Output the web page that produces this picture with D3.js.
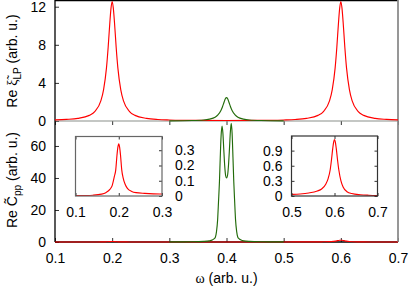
<!DOCTYPE html>
<html>
<head>
<meta charset="utf-8">
<script src="https://cdn.jsdelivr.net/npm/d3@7"></script>
<style>
  body { margin: 0; background: #fff; }
  svg { display: block; font-family: "Liberation Sans", Arial, sans-serif; }
</style>
</head>
<body>
<svg id="chart" width="411" height="288"></svg>
<script>
const omegaRed = [0.1, 0.12, 0.14, 0.16, 0.17, 0.18, 0.185, 0.19, 0.193, 0.196, 0.198, 0.2, 0.202, 0.204, 0.207, 0.21, 0.215, 0.22, 0.23, 0.24, 0.26, 0.28, 0.3, 0.35, 0.4, 0.45, 0.5, 0.52, 0.54, 0.56, 0.57, 0.58, 0.585, 0.59, 0.593, 0.596, 0.598, 0.6, 0.602, 0.604, 0.607, 0.61, 0.615, 0.62, 0.63, 0.64, 0.66, 0.68, 0.7];
// Re xi_LP, red (top panel)
const xiRed = [0.12, 0.17, 0.27, 0.59, 1.02, 2.08, 3.3, 5.55, 7.75, 10.4, 11.85, 12.55, 11.85, 10.4, 7.75, 5.55, 3.3, 2.08, 1.02, 0.59, 0.28, 0.16, 0.11, 0.06, 0.05, 0.06, 0.11, 0.16, 0.28, 0.59, 1.02, 2.08, 3.3, 5.55, 7.75, 10.4, 11.85, 12.55, 11.85, 10.4, 7.75, 5.55, 3.3, 2.08, 1.02, 0.59, 0.27, 0.17, 0.12];
// Re C_pp, red (bottom panel and both insets)
const cppRed = [0.002, 0.003, 0.005, 0.012, 0.022, 0.045, 0.07, 0.13, 0.17, 0.27, 0.32, 0.342, 0.32, 0.27, 0.17, 0.12, 0.075, 0.05, 0.03, 0.022, 0.017, 0.014, 0.013, 0.012, 0.015, 0.02, 0.03, 0.04, 0.06, 0.1, 0.14, 0.24, 0.34, 0.52, 0.72, 0.95, 1.07, 1.12, 1.07, 0.95, 0.72, 0.52, 0.3, 0.18, 0.08, 0.05, 0.025, 0.015, 0.01];

// green, top panel
const omegaGreenTop = [0.3, 0.34, 0.36, 0.37, 0.38, 0.385, 0.39, 0.393, 0.396, 0.398, 0.4, 0.402, 0.404, 0.407, 0.41, 0.415, 0.42, 0.43, 0.44, 0.46, 0.5];
const xiGreen = [0.02, 0.05, 0.11, 0.2, 0.4, 0.64, 1.07, 1.5, 2.02, 2.33, 2.45, 2.33, 2.02, 1.5, 1.07, 0.64, 0.4, 0.2, 0.11, 0.05, 0.02];

// green, bottom panel
const omegaGreenBot = [0.3, 0.34, 0.36, 0.37, 0.375, 0.378, 0.3805, 0.3825, 0.3845, 0.386, 0.3877, 0.389, 0.3905, 0.3922, 0.3937, 0.3952, 0.3968, 0.3985, 0.4002, 0.402, 0.4037, 0.4053, 0.4068, 0.4083, 0.4098, 0.4113, 0.4127, 0.4143, 0.4158, 0.4178, 0.4198, 0.4225, 0.4255, 0.43, 0.44, 0.46, 0.5];
const cppGreen = [0.05, 0.15, 0.35, 0.7, 1.2, 1.9, 3, 6.5, 14, 25, 38, 52, 66, 72.5, 68, 58, 48, 41.5, 40, 42, 49, 59, 69, 74.2, 68, 53, 38, 25, 14, 6.5, 3, 1.9, 1.2, 0.7, 0.35, 0.15, 0.05];

// tick labels
const xTicks = [0.1, 0.2, 0.3, 0.4, 0.5, 0.6, 0.7];
const yTicksTop = [0, 4, 8, 12];
const yTicksBot = [0, 20, 40, 60];
const leftInsetX = [0.1, 0.2, 0.3];
const leftInsetY = [0, 0.1, 0.2, 0.3];
const rightInsetX = [0.5, 0.6, 0.7];
const rightInsetY = [0, 0.3, 0.6, 0.9];

const RED = "#ff0000";
const GREEN = "#226b0a";
const FONT = 14;
const LW = 1.15;

const svg = d3.select("#chart");

/* ---------------- scales ---------------- */
const x = d3.scaleLinear().domain([0.1, 0.7]).range([55, 398]);
const yTop = d3.scaleLinear().domain([0, 12.6]).range([121, 1]);
const yBot = d3.scaleLinear().domain([0, 75.6]).range([242, 121]);

function series(xs, ys) {
    return xs.map((v, i) => [v, ys[i]]);
}

function drawCurve(g, data, xs, ys, color, clipId) {
    g.append("path")
        .datum(data)
        .attr("clip-path", `url(#${clipId})`)
        .attr("fill", "none")
        .attr("stroke", color)
        .attr("stroke-width", LW)
        .attr("d", d3.line()
            .x(d => xs(d[0]))
            .y(d => ys(d[1]))
            .curve(d3.curveMonotoneX));
}

const defs = svg.append("defs");
function clip(id, x0, y0, w, h) {
    defs.append("clipPath").attr("id", id)
        .append("rect").attr("x", x0).attr("y", y0).attr("width", w).attr("height", h);
}
clip("clipTop", 55, 0, 343, 122);
clip("clipBot", 55, 120, 343, 123);

/* ---------------- axes ---------------- */
function styleAxis(g) {
    g.select(".domain").remove();
    g.selectAll("line").attr("stroke", "#333");
    g.selectAll("text").attr("font-size", FONT).attr("fill", "#000")
        .attr("font-family", "'Liberation Sans', Arial, sans-serif");
}

svg.append("g").attr("transform", "translate(55,0)")
    .call(d3.axisLeft(yTop).tickValues(yTicksTop).tickFormat(d3.format("d")).tickSize(-4).tickPadding(9))
    .call(styleAxis);
svg.append("g").attr("transform", "translate(55,0)")
    .call(d3.axisLeft(yBot).tickValues(yTicksBot).tickFormat(d3.format("d")).tickSize(-4).tickPadding(9))
    .call(styleAxis);
svg.append("g").attr("transform", "translate(0,242)")
    .call(d3.axisBottom(x).tickValues(xTicks).tickFormat(d3.format(".1f")).tickSize(-4).tickPadding(11))
    .call(styleAxis);
svg.append("g").attr("transform", "translate(0,121)")
    .call(d3.axisBottom(x).tickValues(xTicks).tickSize(4).tickFormat(""))
    .call(styleAxis);

// frame
const frame = svg.append("g").attr("fill", "none");
frame.append("line").attr("x1", 55).attr("x2", 398).attr("y1", 121).attr("y2", 121).attr("stroke", "#8a8f8a").attr("stroke-width", 1.2);
frame.append("line").attr("x1", 55).attr("x2", 55).attr("y1", 0).attr("y2", 242).attr("stroke", "#000").attr("stroke-width", 1.3);
frame.append("line").attr("x1", 55).attr("x2", 398).attr("y1", 0.7).attr("y2", 0.7).attr("stroke", "#000").attr("stroke-width", 1.3);
frame.append("line").attr("x1", 55).attr("x2", 398).attr("y1", 242).attr("y2", 242).attr("stroke", "#000").attr("stroke-width", 1.3);
frame.append("line").attr("x1", 398).attr("x2", 398).attr("y1", 0).attr("y2", 242).attr("stroke", "#8c8c8c").attr("stroke-width", 1.8);

/* ---------------- curves (over the frame, like the reference) ---------------- */
const plot = svg.append("g");
drawCurve(plot, series(omegaRed, xiRed), x, yTop, RED, "clipTop");
drawCurve(plot, series(omegaGreenTop, xiGreen), x, yTop, GREEN, "clipTop");
drawCurve(plot, series(omegaRed, cppRed), x, yBot, RED, "clipBot");
drawCurve(plot, series(omegaGreenBot, cppGreen), x, yBot, GREEN, "clipBot");

/* ---------------- insets ---------------- */
function inset(opts) {
    const ix = d3.scaleLinear().domain(opts.xDomain).range([opts.x0, opts.x1]);
    const iy = d3.scaleLinear().domain(opts.yDomain).range([opts.y1, opts.y0]);
    const g = svg.append("g");
    clip(opts.id, opts.x0, opts.y0, opts.x1 - opts.x0, opts.y1 - opts.y0);

    g.append("rect")
        .attr("x", opts.x0).attr("y", opts.y0)
        .attr("width", opts.x1 - opts.x0).attr("height", opts.y1 - opts.y0)
        .attr("fill", "#fff");

    drawCurve(g, series(omegaRed, cppRed), ix, iy, RED, opts.id);

    // x ticks top and bottom, labels below
    g.append("g").attr("transform", `translate(0,${opts.y1})`)
        .call(d3.axisBottom(ix).tickValues(opts.xTicks).tickFormat(d3.format(".1f")).tickSize(-3).tickPadding(11))
        .call(styleAxis);
    g.append("g").attr("transform", `translate(0,${opts.y0})`)
        .call(d3.axisTop(ix).tickValues(opts.xTicks).tickFormat("").tickSize(-3))
        .call(styleAxis);

    // y ticks
    const fmt = d => d === 0 ? "0" : d3.format(".1f")(d);
    if (opts.labelsRight) {
        g.append("g").attr("transform", `translate(${opts.x1},0)`)
            .call(d3.axisRight(iy).tickValues(opts.yTicks).tickFormat(fmt).tickSize(-3).tickPadding(13))
            .call(styleAxis);
    } else {
        g.append("g").attr("transform", `translate(${opts.x0},0)`)
            .call(d3.axisLeft(iy).tickValues(opts.yTicks).tickFormat(fmt).tickSize(-3).tickPadding(9))
            .call(styleAxis);
        g.append("g").attr("transform", `translate(${opts.x1},0)`)
            .call(d3.axisRight(iy).tickValues(opts.yTicks).tickFormat("").tickSize(-3))
            .call(styleAxis);
    }

    g.append("rect")
        .attr("x", opts.x0).attr("y", opts.y0)
        .attr("width", opts.x1 - opts.x0).attr("height", opts.y1 - opts.y0)
        .attr("fill", "none")
        .attr("stroke", opts.frame)
        .attr("stroke-width", 1.2);
}

inset({
    id: "clipL", x0: 75.5, x1: 162, y0: 136.5, y1: 196,
    xDomain: [0.1, 0.3], yDomain: [0, 0.39],
    xTicks: leftInsetX, yTicks: leftInsetY,
    labelsRight: true, frame: "#666"
});
inset({
    id: "clipR", x0: 291.5, x1: 377.5, y0: 136, y1: 196,
    xDomain: [0.5, 0.7], yDomain: [0, 1.19],
    xTicks: rightInsetX, yTicks: rightInsetY,
    labelsRight: false, frame: "#333"
});

/* ---------------- titles ---------------- */
const serif = "'Liberation Serif', 'DejaVu Serif', serif";

const xTitle = svg.append("text")
    .attr("x", 226.5).attr("y", 283)
    .attr("text-anchor", "middle")
    .attr("font-size", FONT);
xTitle.append("tspan").attr("font-family", serif).text("ω");
xTitle.append("tspan").text(" (arb. u.)");

function yTitle(cy, symbol, symFont, sub) {
    const t = svg.append("text")
        .attr("transform", `translate(17,${cy}) rotate(-90)`)
        .attr("text-anchor", "middle")
        .attr("font-size", FONT);
    t.append("tspan").text("Re ");
    t.append("tspan").attr("font-family", symFont).text(symbol);
    t.append("tspan").attr("font-size", FONT * 0.72).attr("dy", 3.5).text(sub);
    t.append("tspan").attr("dy", -3.5).text(" (arb. u.)");
}
yTitle(61, "ξ\u0303", serif, "LP");
yTitle(180, "C\u0303", "'Liberation Sans', Arial, sans-serif", "pp");
</script>
</body>
</html>
